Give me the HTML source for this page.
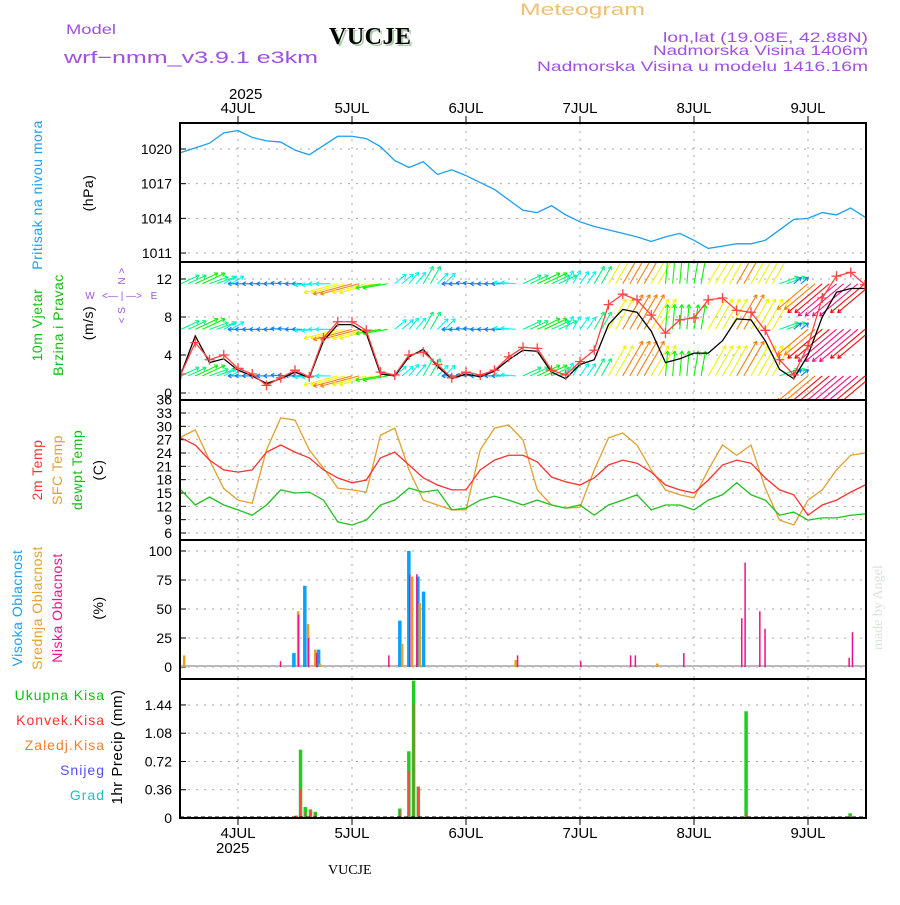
<!DOCTYPE html>
<html><head><meta charset="utf-8"><style>
body{margin:0;background:#fff;}
svg text{font-family:"Liberation Sans",sans-serif;}
</style></head><body>
<svg id="c" width="900" height="900" viewBox="0 0 900 900" xmlns="http://www.w3.org/2000/svg">
<text x="520" y="15" font-size="17" fill="#f0c070" textLength="125" lengthAdjust="spacingAndGlyphs">Meteogram</text>
<text x="66" y="34" font-size="14" fill="#a050e0" textLength="50" lengthAdjust="spacingAndGlyphs">Model</text>
<text x="64" y="63" font-size="17" fill="#a050e0" textLength="254" lengthAdjust="spacingAndGlyphs">wrf−nmm_v3.9.1  e3km</text>
<text x="331" y="46" font-size="24" font-weight="bold" fill="#aaccaa" style="font-family:'Liberation Serif',serif" textLength="82">VUCJE</text>
<text x="329" y="44" font-size="24" font-weight="bold" fill="#000" style="font-family:'Liberation Serif',serif" textLength="82">VUCJE</text>
<text x="868" y="42" font-size="14" fill="#a050e0" text-anchor="end" textLength="205" lengthAdjust="spacingAndGlyphs">lon,lat (19.08E, 42.88N)</text>
<text x="868" y="55" font-size="14" fill="#a050e0" text-anchor="end" textLength="215" lengthAdjust="spacingAndGlyphs">Nadmorska Visina 1406m</text>
<text x="868" y="71" font-size="14" fill="#a050e0" text-anchor="end" textLength="331" lengthAdjust="spacingAndGlyphs">Nadmorska Visina u modelu 1416.16m</text>
<text x="229" y="99" font-size="15" fill="#000">2025</text>
<text x="882" y="650" font-size="14" fill="#d8e4d8" transform="rotate(-90 882 650)" style="font-family:'Liberation Serif',serif">made by Angel</text>
<text x="328" y="874" font-size="14" fill="#000" style="font-family:'Liberation Serif',serif">VUCJE</text>
<text x="216" y="853" font-size="15" fill="#000">2025</text>
<g id="g"></g>
</svg>
<script>
const days=["4JUL","5JUL","6JUL","7JUL","8JUL","9JUL"];
const pressure=[1019.7,1020.1,1020.5,1021.4,1021.6,1021,1020.7,1020.6,1019.9,1019.5,1020.3,1021.1,1021.1,1020.9,1020.2,1019,1018.4,1018.9,1017.8,1018.2,1017.7,1017.1,1016.5,1015.6,1014.7,1014.5,1015.1,1014.3,1013.7,1013.3,1013,1012.7,1012.4,1012,1012.4,1012.7,1012.1,1011.4,1011.6,1011.8,1011.8,1012.1,1013,1013.9,1014,1014.5,1014.3,1014.9,1014.1];
const gust=[2,5.3,3.5,4,2.6,2,0.8,1.6,2.4,1.7,5.8,7.5,7.5,6.6,2.2,1.9,4,4.3,3,1.6,2.2,1.9,2.4,3.8,4.8,4.7,2.4,1.9,3.3,4.5,9.3,10.4,9.8,8.2,6.3,7.7,7.9,9.8,10,8.7,8.5,6.6,3.5,1.9,5,10,12.3,12.7,11.4];
const wspd=[2,6,3.2,3.6,2.4,1.8,1,1.5,2.2,1.6,5.5,7.2,7.2,6.3,2,1.8,3.8,4.6,2.8,1.5,2,1.7,2.3,3.5,4.5,4.4,2.2,1.5,3,3.5,7.2,8.8,8.5,6.5,3.2,3.6,4.2,4.2,5.5,7.8,7.7,5.5,2.5,1.5,4,8,10.6,11,11];
const arrowSpd=[4,5,4,3,2,2,2,2,2,3,3,7,8,7,5,3,3,4,3,2,2,2,2,3,4,5,4,3,3,4,7,8,8,7,5,5,5,7,7,8,7,7,4,2,8,9,10,10,9];
const arrowDir=[25,25,20,30,180,180,180,175,180,185,180,195,195,195,190,40,50,60,45,180,175,180,180,175,25,25,25,60,55,60,60,60,60,60,85,85,80,60,60,60,60,60,20,40,220,220,220,220,220];
const sfcT=[27.6,29.2,22.4,16,13.4,12.7,24.7,31.9,31.4,24.7,20.6,16.1,15.7,15.2,28,29.6,20.2,13.4,12.3,11.2,11.2,24.7,29.6,30.3,26.9,15.7,12.3,11.6,11.8,20.2,27.4,28.5,25.8,20.2,15.7,14.6,13.9,20.2,25.8,23.5,25.8,16.1,8.9,7.8,13.4,15.7,20.2,23.5,24];
const t2m=[27.4,25.8,22.4,20.2,19.7,20.2,24.2,25.8,24.2,22.9,20.2,18.4,17.3,17.9,22.9,24.2,21.3,18.4,16.8,15.7,15.7,20.2,22.4,23.5,23.5,22,18.6,17.5,16.8,18.4,21.3,22.4,21.7,19.7,16.8,15.7,15,17.9,21.3,22.4,21.7,18.4,15.7,14.6,10,12.3,13.4,15.2,16.8];
const dewT=[15.7,12.3,14.1,12.3,11.2,10,12.3,15.7,15,15.2,13.4,8.5,7.8,8.9,12.3,13.4,16.1,15.2,15.7,11.2,11.6,13.4,14.3,13.4,12.3,13.4,12.3,11.6,12.3,10,12.3,13.4,14.6,11.2,12.3,12.3,11.2,13.4,14.6,17.3,14.6,13.4,10,10.7,8.9,9.4,9.4,10,10.3];
const highHours=[23.4,25.7,28.6,45.7,47.6,49.5,50.7];
const highVals=[12,70,15,40,100,78,65];
const midHours=[0.4,24.4,26.5,28,29,46.3,48.4,50,70.2,100];
const midVals=[10,48,37,15,3,20,78,55,6,3];
const lowHours=[20.8,24.6,26.7,28.4,43.6,48,49.5,70.7,84,94.5,95.5,105.7,117.9,118.6,121.7,122.8,140.5,141.2];
const lowVals=[5,45,25,12,10,80,80,10,5,10,10,12,42,90,48,33,8,30];
const precHours=[23.9,24.8,25.8,26.9,27.9,45.7,47.6,48.6,49.6,118.6,140.5];
const totalP=[0.03,0.87,0.14,0.11,0.08,0.12,0.85,1.75,0.40,1.36,0.06];
const convP=[0.03,0.37,0.08,0.1,0.07,0.1,0.6,1.45,0.40,0.05,0.02];

const NS="http://www.w3.org/2000/svg";
const G=document.getElementById('g');
function el(t,a,p){const e=document.createElementNS(NS,t);for(const k in a)e.setAttribute(k,a[k]);(p||G).appendChild(e);return e;}
const X0=181,PX=4.75;
const xh=h=>X0+h*PX;
const xi=i=>xh(i*3);
const L=180,R=866;
const P={p:[123,262],w:[262,400],t:[400,540],c:[540,679],r:[679,818]};
const yP=v=>149+(1020-v)*11.56;
const yW=v=>393-v*9.5;
const yT=v=>533-(v-6)*4.444;
const yC=v=>667-v*1.16;
const yR=v=>818-v*78.5;
function mk(name){const e=el('g',{});return e;}
const defs=el('defs',{});
Object.keys(P).forEach(k=>{const cp=el('clipPath',{id:'cl'+k},defs);el('rect',{x:L,y:P[k][0],width:R-L,height:P[k][1]-P[k][0]},cp);});
function grid(k,ys,labels){
 const g=mk('grid-'+k);
 ys.forEach((y,i)=>{el('line',{x1:L,x2:R,y1:y,y2:y,stroke:'#aaa','stroke-dasharray':'2,6'},g);
  el('line',{x1:L,x2:L+6,y1:y,y2:y,stroke:'#000'},g);
  const t=el('text',{x:L-8,y:y+5,'font-size':14,'text-anchor':'end',fill:'#000'},g);t.textContent=labels[i];
  });
 days.forEach((d,i)=>{const x=238+i*114;el('line',{x1:x,x2:x,y1:P[k][0],y2:P[k][1],stroke:'#aaa','stroke-dasharray':'2,6'},g);});
 return g;}
const pT=[1011,1014,1017,1020];grid('p',pT.map(yP),pT);
const wT=[0,4,8,12];grid('w',wT.map(yW),wT);
const tT=[6,9,12,15,18,21,24,27,30,33,36];grid('t',tT.map(yT),tT);
const cT=[0,25,50,75,100];grid('c',cT.map(yC),cT);
const rT=[0,0.36,0.72,1.08,1.44];grid('r',rT.map(yR),rT.map(v=>v===0?'0':v.toFixed(2)));
function line(arr,yf,col,k,name,w){const g=mk(name);g.setAttribute('clip-path','url(#cl'+k+')');
 el('polyline',{points:arr.map((v,i)=>xi(i)+','+yf(v)).join(' '),fill:'none',stroke:col,'stroke-width':w||1.3},g);return g;}
line(pressure,yP,'#1a9ff0','p','pressure-line');
const wa=mk('wind-arrows');wa.setAttribute('clip-path','url(#clw)');
const rows=[1.8,6.7,11.5];
rows.forEach(r=>{arrowSpd.forEach((s,i)=>{[0,1.5].forEach(off=>{
 const x=xi(i)+off*PX,y=yW(r),a=arrowDir[i]*Math.PI/180,len=s*5;
 const x2=x+len*Math.cos(a),y2=y-len*Math.sin(a);
 const hue=Math.max(-30,270-s*30);const col='hsl('+((hue+360)%360)+',90%,50%)';
 const g=el('g',{},wa);
 el('line',{x1:x,y1:y,x2:x2,y2:y2,stroke:col,'stroke-width':1.1},g);
 [150,-150].forEach(d=>{const b=a+d*Math.PI/180;el('line',{x1:x2,y1:y2,x2:x2+4*Math.cos(b),y2:y2-4*Math.sin(b),stroke:col,'stroke-width':1.1},g);});
});});});
line(wspd,yW,'#000','w','wind-speed-line');
const gl=line(gust,yW,'#ff4444','w','wind-gust-line');
gust.forEach((v,i)=>{const x=xi(i),y=yW(v);el('path',{d:`M${x-5},${y}h10M${x},${y-5}v10`,stroke:'#ff4444','stroke-width':1.3},gl);});
line(sfcT,yT,'#e0a030','t','sfc-temp-line');
line(t2m,yT,'#ff3030','t','t2m-line');
line(dewT,yT,'#20c020','t','dewpoint-line');
const cb=mk('cloud-bars');
el('line',{x1:L,x2:R,y1:666,y2:666,stroke:'#bbb','stroke-width':2},cb);
function bars(hs,vs,col,off,w,yf,g,name){hs.forEach((h,i)=>{const y=yf(vs[i]);const r=el('rect',{x:xh(h)+off,y:y,width:w,height:yf(0)-y,fill:col},g);});}
bars(highHours,highVals,'#0aa0ff',0,3.5,yC,cb,'high-cloud-bar');
bars(midHours,midVals,'#e8a020',0,2.5,yC,cb,'mid-cloud-bar');
bars(lowHours,lowVals,'#ee1188',0,1.5,yC,cb,'low-cloud-bar');
const pb=mk('precip-bars');
bars(precHours,totalP,'#22cc22',0,3.5,yR,pb,'total-precip-bar');
bars(precHours,convP,'#ff4444',1,1.5,yR,pb,'conv-precip-bar');
el('line',{x1:L,x2:R,y1:817,y2:817,stroke:'#000','stroke-dasharray':'4,3'},pb);
const fr=mk('frames');
Object.keys(P).forEach(k=>el('rect',{x:L,y:P[k][0],width:R-L,height:P[k][1]-P[k][0],fill:'none',stroke:'#000','stroke-width':2},fr));
days.forEach((d,i)=>{const x=238+i*114;
 el('line',{x1:x,x2:x,y1:116,y2:123,stroke:'#000'},fr);el('line',{x1:x,x2:x,y1:818,y2:825,stroke:'#000'},fr);
 [113,838].forEach(y=>{const t=el('text',{x:x,y:y,'font-size':15,'text-anchor':'middle',fill:'#000'},fr);t.textContent=d;
 });});
function vt(x,y,s,col,name,fs){const t=el('text',{x:x,y:y,'font-size':fs||14,fill:col,'text-anchor':'middle',transform:`rotate(-90 ${x} ${y})`,'letter-spacing':0.5});t.textContent=s;}
vt(42,195,'Pritisak na nivou mora','#1a9ff0','pressure-title');vt(93,193,'(hPa)','#000','pressure-unit');
vt(42,325,'10m Vjetar','#10c010','wind-title');vt(63,325,'Brzina i Pravac','#10c010','wind-title-2');vt(93,323,'(m/s)','#000','wind-unit');
vt(42,470,'2m Temp','#ff3030','t2m-title');vt(62,470,'SFC Temp','#e0a030','sfc-title');vt(82,470,'dewpt Temp','#10c010','dew-title');vt(103,470,'(C)','#000','temp-unit');
vt(22,608,'Visoka Oblacnost','#1a9ff0','high-cloud-title');vt(42,608,'Srednja Oblacnost','#e0a030','mid-cloud-title');vt(62,608,'Niska Oblacnost','#ee1188','low-cloud-title');vt(103,608,'(%)','#000','cloud-unit');
vt(122,747,'1hr Precip (mm)','#000','precip-unit',15);
[['Ukupna Kisa','#10c010',700],['Konvek.Kisa','#ff3030',725],['Zaledj.Kisa','#f08030',750],['Snijeg','#5050ff',775],['Grad','#20c0c0',800]].forEach(a=>{
 const t=el('text',{x:105,y:a[2],'font-size':14,fill:a[1],'text-anchor':'end','letter-spacing':1});t.textContent=a[0];});
const cp=mk('compass');
[['W',90,299],['<— | —>',122,299],['E',154,299]].forEach(a=>{const t=el('text',{x:a[1],y:a[2],'font-size':10,fill:'#a050e0','text-anchor':'middle'},cp);t.textContent=a[0];});
vt(125,276,'N >','#a050e0','compass-n',10);vt(125,315,'< S','#a050e0','compass-s',10);
</script>
</body></html>
